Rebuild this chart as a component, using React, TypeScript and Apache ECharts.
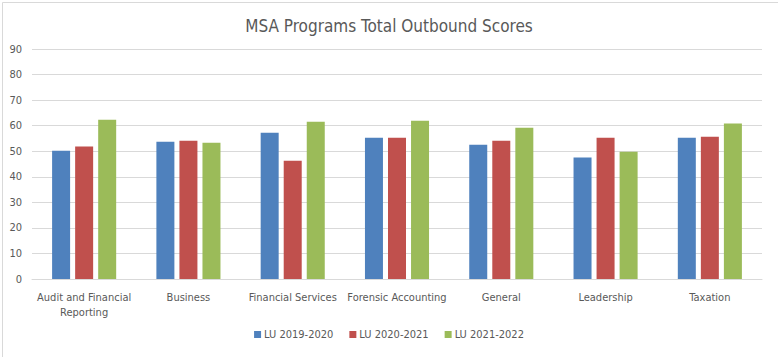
import React, { useEffect, useRef } from "react";
import * as echarts from "echarts";

const categories = [
  "Audit and Financial\nReporting",
  "Business",
  "Financial Services",
  "Forensic Accounting",
  "General",
  "Leadership",
  "Taxation",
];
const seriesNames = ["LU 2019-2020", "LU 2020-2021", "LU 2021-2022"];
const lu2019 = [50.2, 53.7, 57.2, 55.3, 52.5, 47.5, 55.3];
const lu2020 = [51.8, 54.1, 46.3, 55.3, 54.1, 55.3, 55.7];
const lu2021 = [62.3, 53.3, 61.5, 61.9, 59.2, 49.8, 60.8];
const colors = ["#4F81BD", "#C0504D", "#9BBB59"];

const FONT = "'Liberation Sans Narrow', 'DejaVu Sans Condensed', 'Noto Sans', sans-serif";

export default function App() {
  const ref = useRef<HTMLDivElement>(null);
  useEffect(() => {
    const chart = echarts.init(ref.current!, null, { renderer: "svg" });
    const data = [lu2019, lu2020, lu2021];
    chart.setOption({
      animation: false,
      backgroundColor: "#ffffff",
      textStyle: { fontFamily: FONT },
      title: {
        text: "MSA Programs Total Outbound Scores",
        left: "center",
        top: 12,
        textStyle: { fontFamily: FONT, fontSize: 17, fontWeight: "normal", color: "#595959" },
      },
      grid: { left: 32, right: 16, top: 49, bottom: 78, containLabel: false },
      legend: {
        bottom: 12,
        left: "center",
        itemWidth: 7,
        itemHeight: 7,
        itemGap: 16,
        icon: "rect",
        textStyle: { fontFamily: FONT, fontSize: 11, color: "#595959", padding: [0, 0, 0, -2] },
        data: seriesNames,
      },
      xAxis: {
        type: "category",
        data: categories,
        axisLine: { lineStyle: { color: "#D9D9D9" } },
        axisTick: { show: false },
        axisLabel: {
          interval: 0,
          fontFamily: FONT,
          fontSize: 11,
          color: "#595959",
          margin: 11,
          lineHeight: 15,
        },
      },
      yAxis: {
        type: "value",
        min: 0,
        max: 90,
        interval: 10,
        axisLine: { show: false },
        axisTick: { show: false },
        splitLine: { lineStyle: { color: "#D9D9D9" } },
        axisLabel: { fontFamily: FONT, fontSize: 11, color: "#595959", margin: 10 },
      },
      series: seriesNames.map((name, i) => ({
        name,
        type: "bar",
        data: data[i],
        barWidth: 18,
        barGap: "28%",
        itemStyle: { color: colors[i] },
      })),
      graphic: [
        {
          type: "rect",
          left: 0,
          top: 0,
          shape: { x: 0, y: 0, width: 777, height: 356 },
          style: { fill: "none", stroke: "#D9D9D9", lineWidth: 1 },
          silent: true,
        },
      ],
    });
    return () => chart.dispose();
  }, []);
  return (
    <div
      ref={ref}
      style={{ position: "fixed", left: 0, top: 0, width: 778, height: 357 }}
    />
  );
}
